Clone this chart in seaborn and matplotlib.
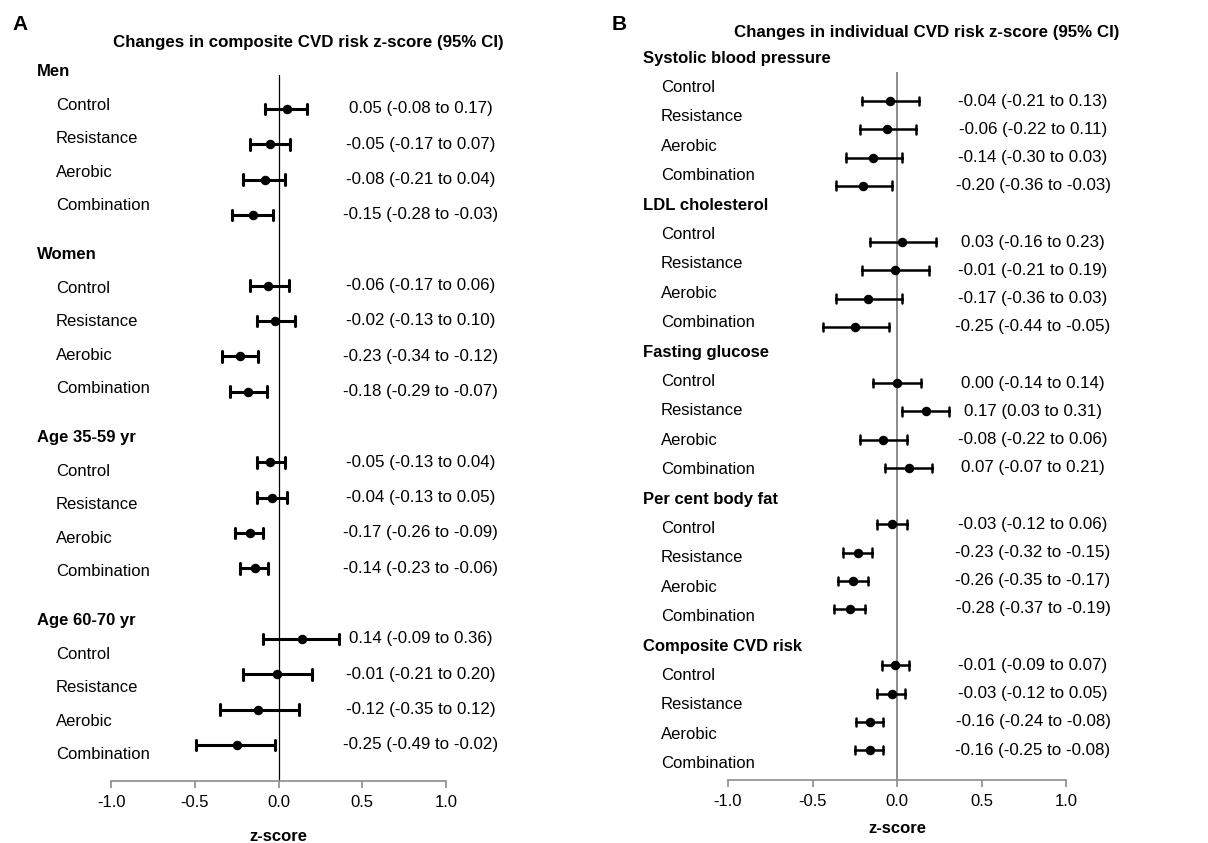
import numpy as np
import pandas as pd
import matplotlib
matplotlib.use("Agg")
import matplotlib.pyplot as plt
import matplotlib.transforms as mtransforms
import seaborn as sns

# ============================================================================
# DATA
# ============================================================================

arms = ['Control', 'Resistance', 'Aerobic', 'Combination']

groups_a = ['Men', 'Women', 'Age 35-59 yr', 'Age 60-70 yr']
est_a = [0.05, -0.05, -0.08, -0.15,
         -0.06, -0.02, -0.23, -0.18,
         -0.05, -0.04, -0.17, -0.14,
         0.14, -0.01, -0.12, -0.25]
lo_a = [-0.08, -0.17, -0.21, -0.28,
        -0.17, -0.13, -0.34, -0.29,
        -0.13, -0.13, -0.26, -0.23,
        -0.09, -0.21, -0.35, -0.49]
hi_a = [0.17, 0.07, 0.04, -0.03,
        0.06, 0.10, -0.12, -0.07,
        0.04, 0.05, -0.09, -0.06,
        0.36, 0.20, 0.12, -0.02]

groups_b = ['Systolic blood pressure', 'LDL cholesterol', 'Fasting glucose',
            'Per cent body fat', 'Composite CVD risk']
est_b = [-0.04, -0.06, -0.14, -0.20,
         0.03, -0.01, -0.17, -0.25,
         0.00, 0.17, -0.08, 0.07,
         -0.03, -0.23, -0.26, -0.28,
         -0.01, -0.03, -0.16, -0.16]
lo_b = [-0.21, -0.22, -0.30, -0.36,
        -0.16, -0.21, -0.36, -0.44,
        -0.14, 0.03, -0.22, -0.07,
        -0.12, -0.32, -0.35, -0.37,
        -0.09, -0.12, -0.24, -0.25]
hi_b = [0.13, 0.11, 0.03, -0.03,
        0.23, 0.19, 0.03, -0.05,
        0.14, 0.31, 0.06, 0.21,
        0.06, -0.15, -0.17, -0.19,
        0.07, 0.05, -0.08, -0.08]

# ============================================================================
# STYLE
# ============================================================================

sns.set_style('white')
plt.rcParams['font.family'] = ['Liberation Sans', 'DejaVu Sans']
plt.rcParams['font.size'] = 12
plt.rcParams['text.color'] = 'black'
plt.rcParams['axes.labelcolor'] = 'black'
plt.rcParams['xtick.labelcolor'] = 'black'

W, H = 1208, 843
fig = plt.figure(figsize=(W / 100, H / 100), dpi=100)


def px_axes(x0, x1, y0, y1):
    return fig.add_axes([x0 / W, 1 - y1 / H, (x1 - x0) / W, (y1 - y0) / H])


def forest(ax, groups, est, lo, hi, ylim, head0, head_step, lab_step,
           head_x, lab_x, est_x, err_lw, zero_color, zero_lw, labelpad):
    n = len(arms)
    slots = [g * (n + 1) + i for g in range(len(groups)) for i in range(n)]
    df = pd.DataFrame({
        'slot': np.repeat(slots, 3),
        'value': np.ravel(np.column_stack([lo, est, hi])),
    })
    ax.axvline(0, color=zero_color, lw=zero_lw, zorder=0)
    sns.pointplot(data=df, x='value', y='slot', orient='y', native_scale=True,
                  estimator='median', errorbar=lambda v: (v.min(), v.max()),
                  linestyle='none', marker='o', markersize=4.8, color='black',
                  capsize=0.3, err_kws={'linewidth': err_lw}, ax=ax)
    ax.set_xlim(-1, 1)
    ax.set_ylim(*ylim)
    ax.set_xticks([-1, -0.5, 0, 0.5, 1])
    ax.set_xticklabels(['-1.0', '-0.5', '0.0', '0.5', '1.0'], fontsize=12)
    ax.set_yticks([])
    ax.set_ylabel('')
    ax.set_xlabel('z-score', fontsize=12, fontweight='bold', labelpad=labelpad)
    sns.despine(ax=ax, left=True)
    ax.spines['bottom'].set_color('#8c8c8c')
    ax.spines['bottom'].set_linewidth(1.2)
    ax.tick_params(axis='x', direction='out', length=5, width=1.2,
                   color='#8c8c8c', labelcolor='black', bottom=True, pad=5)

    trans = mtransforms.blended_transform_factory(ax.transAxes, ax.transData)
    for g, name in enumerate(groups):
        hy = head0 + head_step * g
        ax.text(head_x, hy, name, transform=trans, fontsize=12,
                fontweight='bold', ha='left', va='center', clip_on=False)
        for i, arm in enumerate(arms):
            ax.text(lab_x, hy + lab_step * (i + 1), arm, transform=trans,
                    fontsize=12, ha='left', va='center', clip_on=False)
    for s, e, l, h in zip(slots, est, lo, hi):
        ax.text(est_x, s, f'{e:.2f} ({l:.2f} to {h:.2f})', fontsize=12.2,
                ha='center', va='center', clip_on=False)


# Panel A
ax_a = px_axes(111, 446, 75, 781)
forest(ax_a, groups_a, est_a, lo_a, hi_a, ylim=(19.02, -0.96),
       head0=-1.05, head_step=5.18, lab_step=0.948,
       head_x=-0.221, lab_x=-0.164, est_x=0.85,
       err_lw=2.2, zero_color='black', zero_lw=0.9, labelpad=14)

# Panel B
ax_b = px_axes(728, 1066, 72, 780)
forest(ax_b, groups_b, est_b, lo_b, hi_b, ylim=(24.06, -1.03),
       head0=-1.52, head_step=5.21, lab_step=1.04,
       head_x=-0.251, lab_x=-0.198, est_x=0.805,
       err_lw=1.8, zero_color='#8c8c8c', zero_lw=1.4, labelpad=9)

fig.text(308 / W, 1 - 43 / H, 'Changes in composite CVD risk z-score (95% CI)',
         ha='center', va='center', fontsize=12.2, fontweight='bold')
fig.text(927 / W, 1 - 32 / H, 'Changes in individual CVD risk z-score (95% CI)',
         ha='center', va='center', fontsize=12.2, fontweight='bold')
fig.text(12 / W, 1 - 25 / H, 'A', ha='left', va='center', fontsize=15,
         fontweight='bold')
fig.text(612 / W, 1 - 25 / H, 'B', ha='left', va='center', fontsize=15,
         fontweight='bold')

plt.savefig('out.png', dpi=100)
